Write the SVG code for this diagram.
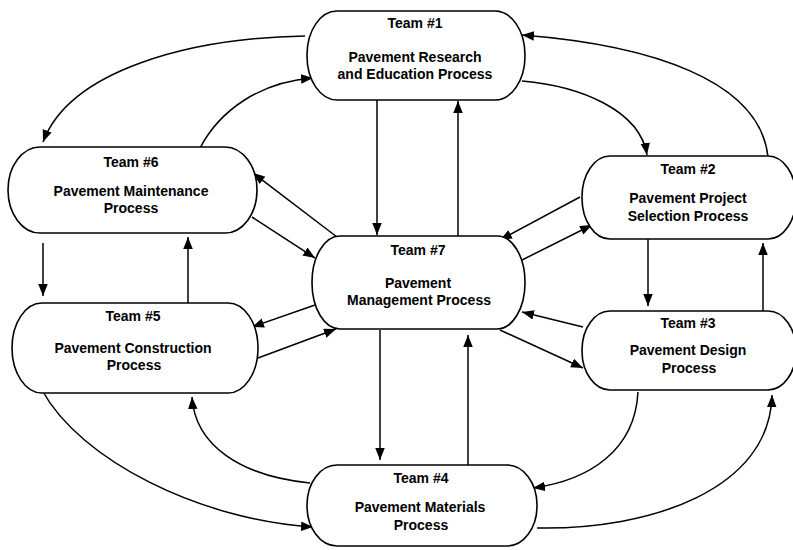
<svg xmlns="http://www.w3.org/2000/svg" width="793" height="550" viewBox="0 0 793 550">
  <style>
    .box { fill: #ffffff; stroke: #000000; stroke-width: 1.6; }
    .t { font-family: "Liberation Sans", Arial, sans-serif; font-weight: bold; font-size: 14px; fill: #000000; text-anchor: middle; }
    .c { fill: none; stroke: #000000; stroke-width: 1.5; marker-end: url(#arr); }
  </style>
  <defs>
    <marker id="arr" markerUnits="userSpaceOnUse" markerWidth="13" markerHeight="10" refX="12" refY="4.75" orient="auto">
      <path d="M0,0 L12,4.75 L0,9.5 z" fill="#000000"/>
    </marker>
  </defs>
  <rect width="793" height="550" fill="#ffffff"/>

  <!-- connectors -->
  <g id="connectors">
    <!-- curved loops between the outer process teams -->
    <path class="c" d="M305,36 C190,38 70,70 43,142"/>
    <path class="c" d="M200,148 C220,110 260,82 313,78"/>
    <path class="c" d="M522,81 C580,86 640,110 647,155"/>
    <path class="c" d="M768,157 C760,80 650,45 522,35"/>
    <path class="c" d="M42,390 C80,460 200,520 313,527"/>
    <path class="c" d="M310,483 C240,476 195,445 192,397"/>
    <path class="c" d="M638,392 C635,450 590,480 533,488"/>
    <path class="c" d="M537,528 C650,530 770,490 772,395"/>
    <!-- straight links -->
    <path class="c" d="M377,100 L377,235"/>
    <path class="c" d="M458,236 L458,101"/>
    <path class="c" d="M337,237 L253,173"/>
    <path class="c" d="M252,217 L315,258"/>
    <path class="c" d="M315,305 L252,327"/>
    <path class="c" d="M258,358 L336,329"/>
    <path class="c" d="M580,197 L500,240"/>
    <path class="c" d="M522,260 L592,225"/>
    <path class="c" d="M583,327 L522,312"/>
    <path class="c" d="M500,330 L583,368"/>
    <path class="c" d="M380,330 L380,460"/>
    <path class="c" d="M468,465 L468,335"/>
    <path class="c" d="M43,243 L43,296"/>
    <path class="c" d="M188,303 L188,237"/>
    <path class="c" d="M648,239 L648,306"/>
    <path class="c" d="M763,313 L763,243"/>
  </g>

  <g id="team1">
    <rect class="box" x="307" y="11" width="218" height="89" rx="30" ry="44"/>
    <text class="t" x="415" y="28">Team #1</text>
    <text class="t" x="415" y="62">Pavement Research</text>
    <text class="t" x="415" y="79">and Education Process</text>
  </g>

  <g id="team6">
    <rect class="box" x="8" y="147" width="249" height="86" rx="32" ry="43"/>
    <text class="t" x="131" y="167">Team #6</text>
    <text class="t" x="131" y="196">Pavement Maintenance</text>
    <text class="t" x="131" y="213">Process</text>
  </g>

  <g id="team2">
    <rect class="box" x="582" y="156" width="214" height="83" rx="28" ry="41"/>
    <text class="t" x="688" y="174">Team #2</text>
    <text class="t" x="688" y="203">Pavement Project</text>
    <text class="t" x="688" y="221">Selection Process</text>
  </g>

  <g id="team7">
    <rect class="box" x="312" y="236" width="213" height="93" rx="28" ry="46"/>
    <text class="t" x="418" y="255">Team #7</text>
    <text class="t" x="418" y="288">Pavement</text>
    <text class="t" x="419" y="305">Management Process</text>
  </g>

  <g id="team5">
    <rect class="box" x="12" y="303" width="246" height="90" rx="30" ry="45"/>
    <text class="t" x="133" y="321">Team #5</text>
    <text class="t" x="133" y="353">Pavement Construction</text>
    <text class="t" x="134" y="370">Process</text>
  </g>

  <g id="team3">
    <rect class="box" x="582" y="311" width="214" height="79" rx="28" ry="39"/>
    <text class="t" x="688" y="328">Team #3</text>
    <text class="t" x="688" y="355">Pavement Design</text>
    <text class="t" x="689" y="373">Process</text>
  </g>

  <g id="team4">
    <rect class="box" x="307" y="465" width="230" height="81" rx="30" ry="40"/>
    <text class="t" x="421" y="483">Team #4</text>
    <text class="t" x="420" y="512">Pavement Materials</text>
    <text class="t" x="421" y="530">Process</text>
  </g>
</svg>
